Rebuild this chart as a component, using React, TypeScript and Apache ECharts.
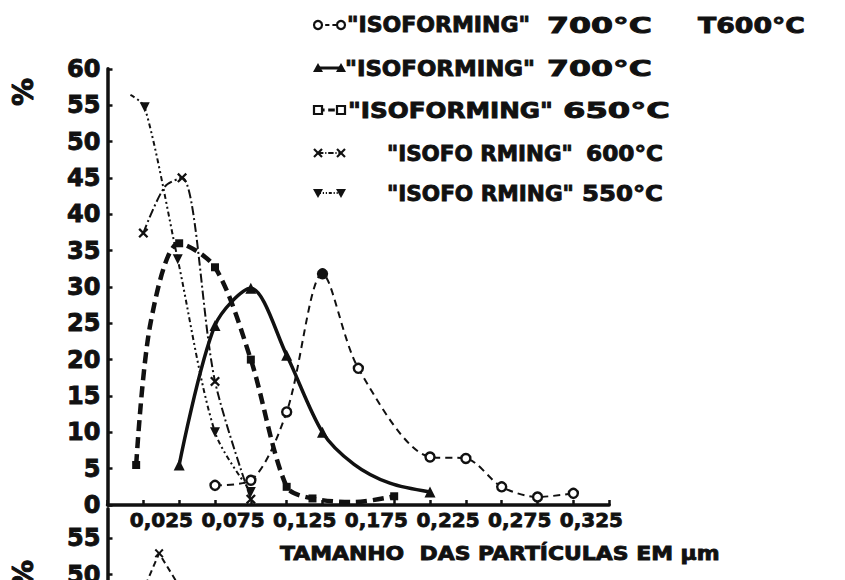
import React, { useEffect, useRef } from 'react';
import * as echarts from 'echarts';

// ---------- data ----------
const xTickLabels = ['0,025', '0,075', '0,125', '0,175', '0,225', '0,275', '0,325'];
const xAxisTitle = 'TAMANHO  DAS PARTÍCULAS EM μm';
const yAxisName = '%';

const seriesNames = [
  '"ISOFORMING" 700°C T600°C',
  '"ISOFORMING" 700°C',
  '"ISOFORMING" 650°C',
  '"ISOFORMING" 600°C',
  '"ISOFORMING" 550°C',
];

// legend text pieces per row
const legendNames = ['"ISOFORMING"', '"ISOFORMING"', '"ISOFORMING"', '"ISOFO RMING"', '"ISOFO RMING"'];
const legendTemps = ['700°C', '700°C', '650°C', '600°C', '550°C'];
const legendExtra = 'T600°C';

// [particle size (mm), %]
const iso700T600 = [[0.075, 2.7], [0.1, 3.4], [0.125, 12.8], [0.15, 31.8], [0.175, 18.8], [0.225, 6.6], [0.25, 6.4], [0.275, 2.5], [0.3, 1.1], [0.325, 1.6]];
const iso700 = [[0.05, 5.5], [0.075, 24.7], [0.1, 29.8], [0.125, 20.6], [0.15, 10], [0.225, 1.8]];
const iso700Guide = [[0.172, 5.6], [0.197, 3.0]];
const iso650 = [[0.02, 5.5], [0.05, 36], [0.075, 32.7], [0.1, 20], [0.125, 2.5], [0.143, 0.9], [0.2, 1.2]];
const iso650Guide = [[0.03, 25], [0.172, 0.4]];
const iso600 = [[0.025, 37.4], [0.052, 45], [0.075, 17], [0.1, 0.8]];
const iso600Guide = [[0.04, 43.8]];
const iso550 = [[0.026, 54.7], [0.049, 33.8], [0.075, 10], [0.1, 1.8]];
const iso550Guide = [[0.016, 56.4]];

// second (cut-off) chart below
const lowerCurve = [[0.01, 41], [0.036, 52.9], [0.07, 42]];

// ---------- styling ----------
const INK = '#111';
const FONT = '"DejaVu Sans", sans-serif';
const X_PATH = 'path://M0,1.6L1.6,0L5,3.4L8.4,0L10,1.6L6.6,5L10,8.4L8.4,10L5,6.6L1.6,10L0,8.4L3.4,5Z';

function measure(text: string, size: number) {
  const ctx = document.createElement('canvas').getContext('2d')!;
  ctx.font = `bold ${size}px ${FONT}`;
  return ctx.measureText(text).width || 1;
}

function fitText(text: string, x: number, y: number, size: number, width: number) {
  return {
    type: 'text',
    x,
    y,
    scaleX: width / measure(text, size),
    style: {
      text, font: `bold ${size}px ${FONT}`, fill: INK, stroke: INK, lineWidth: 0.9,
      align: 'left', verticalAlign: 'middle',
    },
  };
}

function legendSymbol(kind: string, cx: number, cy: number): any {
  switch (kind) {
    case 'circle':
      return { type: 'circle', shape: { cx, cy, r: 4 }, style: { fill: '#fff', stroke: INK, lineWidth: 2.2 } };
    case 'tri':
      return { type: 'polygon', shape: { points: [[cx - 5, cy + 4], [cx + 5, cy + 4], [cx, cy - 5]] }, style: { fill: INK } };
    case 'rect':
      return { type: 'rect', shape: { x: cx - 4, y: cy - 4, width: 8, height: 8 }, style: { fill: '#fff', stroke: INK, lineWidth: 2.2 } };
    case 'x':
      return {
        type: 'group',
        children: [
          { type: 'line', shape: { x1: cx - 4, y1: cy - 4, x2: cx + 4, y2: cy + 4 }, style: { stroke: INK, lineWidth: 2.2 } },
          { type: 'line', shape: { x1: cx - 4, y1: cy + 4, x2: cx + 4, y2: cy - 4 }, style: { stroke: INK, lineWidth: 2.2 } },
        ],
      };
    default:
      return { type: 'polygon', shape: { points: [[cx - 5, cy - 4], [cx + 5, cy - 4], [cx, cy + 5]] }, style: { fill: INK } };
  }
}

function buildItems(pts: number[][], guide: number[][] = [], peakFill = false) {
  const maxY = Math.max(...pts.map((p) => p[1]));
  const items: any[] = pts.map((p) => {
    const it: any = { value: p };
    if (peakFill && p[1] === maxY) it.itemStyle = { color: INK, borderColor: INK };
    return it;
  });
  guide.forEach((p) => items.push({ value: p, symbol: 'none' }));
  return items.sort((a, b) => a.value[0] - b.value[0]);
}

function buildOption() {
  const lineKinds = [
    { sym: 'circle', width: 2, dash: [7, 5] },
    { sym: 'tri', width: 3.5, dash: null },
    { sym: 'rect', width: 4.5, dash: [11, 6] },
    { sym: 'x', width: 2, dash: [9, 3, 2, 3] },
    { sym: 'tridown', width: 2, dash: [5, 3, 2, 3, 2, 3] },
  ];
  const rowY = [25, 68, 110, 153, 193];
  const nameX = [347, 345, 348, 387, 387];
  const nameW = [183, 190, 205, 186, 187];
  const tempX = [547, 547, 563, 586, 582];
  const tempW = [105, 105, 107, 77, 81];

  const graphic: any[] = [];
  lineKinds.forEach((k, i) => {
    const y = rowY[i];
    graphic.push({
      type: 'line',
      shape: { x1: 318, y1: y, x2: 341, y2: y },
      style: { stroke: INK, lineWidth: Math.min(k.width, 3), lineDash: k.dash ? k.dash.map((d) => d * 0.6) : null },
    });
    graphic.push(legendSymbol(k.sym, 318, y));
    graphic.push(legendSymbol(k.sym, 341, y));
    graphic.push(fitText(legendNames[i], nameX[i], y, 22, nameW[i]));
    graphic.push(fitText(legendTemps[i], tempX[i], y, 22, tempW[i]));
  });
  graphic.push(fitText(legendExtra, 698, rowY[0], 22, 107));
  graphic.push(fitText(xAxisTitle, 280, 553, 20, 440));
  graphic.push({
    type: 'text', x: 23, y: 92, rotation: Math.PI / 2,
    style: { text: yAxisName, font: `bold 28px ${FONT}`, fill: INK, stroke: INK, lineWidth: 1, align: 'center', verticalAlign: 'middle' },
  });
  graphic.push({
    type: 'text', x: 23, y: 574, rotation: Math.PI / 2,
    style: { text: yAxisName, font: `bold 28px ${FONT}`, fill: INK, stroke: INK, lineWidth: 1, align: 'center', verticalAlign: 'middle' },
  });

  const mainData = [
    buildItems(iso700T600, [], true),
    buildItems(iso700, iso700Guide),
    buildItems(iso650, iso650Guide),
    buildItems(iso600, iso600Guide),
    buildItems(iso550, iso550Guide),
  ];
  const symbolOf: any[] = [
    { symbol: 'circle', symbolSize: 9, itemStyle: { color: '#fff', borderColor: INK, borderWidth: 2.4 } },
    { symbol: 'triangle', symbolSize: 11, itemStyle: { color: INK } },
    { symbol: 'rect', symbolSize: 8, itemStyle: { color: INK } },
    { symbol: X_PATH, symbolSize: 10, itemStyle: { color: INK } },
    { symbol: 'triangle', symbolSize: 10, symbolRotate: 180, itemStyle: { color: INK } },
  ];

  const series: any[] = mainData.map((data, i) => ({
    name: seriesNames[i],
    type: 'line',
    xAxisIndex: 0,
    yAxisIndex: 0,
    data,
    smooth: 0.3,
    showSymbol: true,
    ...symbolOf[i],
    lineStyle: { color: INK, width: lineKinds[i].width, type: lineKinds[i].dash || 'solid' },
    emphasis: { disabled: true },
  }));
  series.push({
    name: 'lower',
    type: 'line',
    xAxisIndex: 1,
    yAxisIndex: 1,
    data: lowerCurve.map((p, i) => (i === 1 ? { value: p } : { value: p, symbol: 'none' })),
    symbol: X_PATH,
    symbolSize: 9,
    itemStyle: { color: INK },
    lineStyle: { color: INK, width: 2, type: [6, 4] },
  });

  const axisLineStyle = { show: true, onZero: false, lineStyle: { color: INK, width: 3.5 } };
  const tickStyle = { show: true, inside: true, length: 5, lineStyle: { color: INK, width: 2.5 } };
  const yLabel = {
    color: INK, fontFamily: FONT, fontWeight: 'bold', fontSize: 24, margin: 7,
    textBorderColor: INK, textBorderWidth: 0.9,
  };

  return {
    animation: false,
    backgroundColor: '#fff',
    grid: [
      { left: 107.5, top: 68.8, width: 501.7, height: 436.2 },
      { left: 107.5, top: 508.8, width: 501.7, height: 430.7 },
    ],
    xAxis: [
      {
        type: 'value', gridIndex: 0, min: 0, max: 0.35, interval: 0.025,
        axisLine: axisLineStyle, axisTick: tickStyle, splitLine: { show: false },
        axisLabel: {
          color: INK, fontFamily: FONT, fontWeight: 'bold', fontSize: 20, margin: 5,
          textBorderColor: INK, textBorderWidth: 0.8,
          padding: [0, 0, 0, 36],
          formatter: (v: number) => {
            const k = Math.round(v / 0.025);
            return k % 2 === 1 ? xTickLabels[(k - 1) / 2] ?? '' : '';
          },
        },
      },
      { type: 'value', gridIndex: 1, min: 0, max: 0.35, show: false },
    ],
    yAxis: [
      {
        type: 'value', gridIndex: 0, min: 0, max: 60, interval: 5,
        axisLine: axisLineStyle, axisTick: tickStyle, splitLine: { show: false },
        axisLabel: yLabel,
      },
      {
        type: 'value', gridIndex: 1, min: 0, max: 59, interval: 5,
        axisLine: axisLineStyle, axisTick: tickStyle, splitLine: { show: false },
        axisLabel: { ...yLabel, showMaxLabel: false, formatter: (v: number) => (v % 5 === 0 ? String(v) : '') },
      },
    ],
    series,
    graphic,
  };
}

export default function App() {
  const ref = useRef<HTMLDivElement>(null);
  useEffect(() => {
    const chart = echarts.init(ref.current!, null, { renderer: 'svg' });
    chart.setOption(buildOption() as any);
    return () => chart.dispose();
  }, []);
  return (
    <div
      ref={ref}
      style={{ position: 'fixed', left: 0, top: 0, width: 845, height: 1000, background: '#fff' }}
    />
  );
}
